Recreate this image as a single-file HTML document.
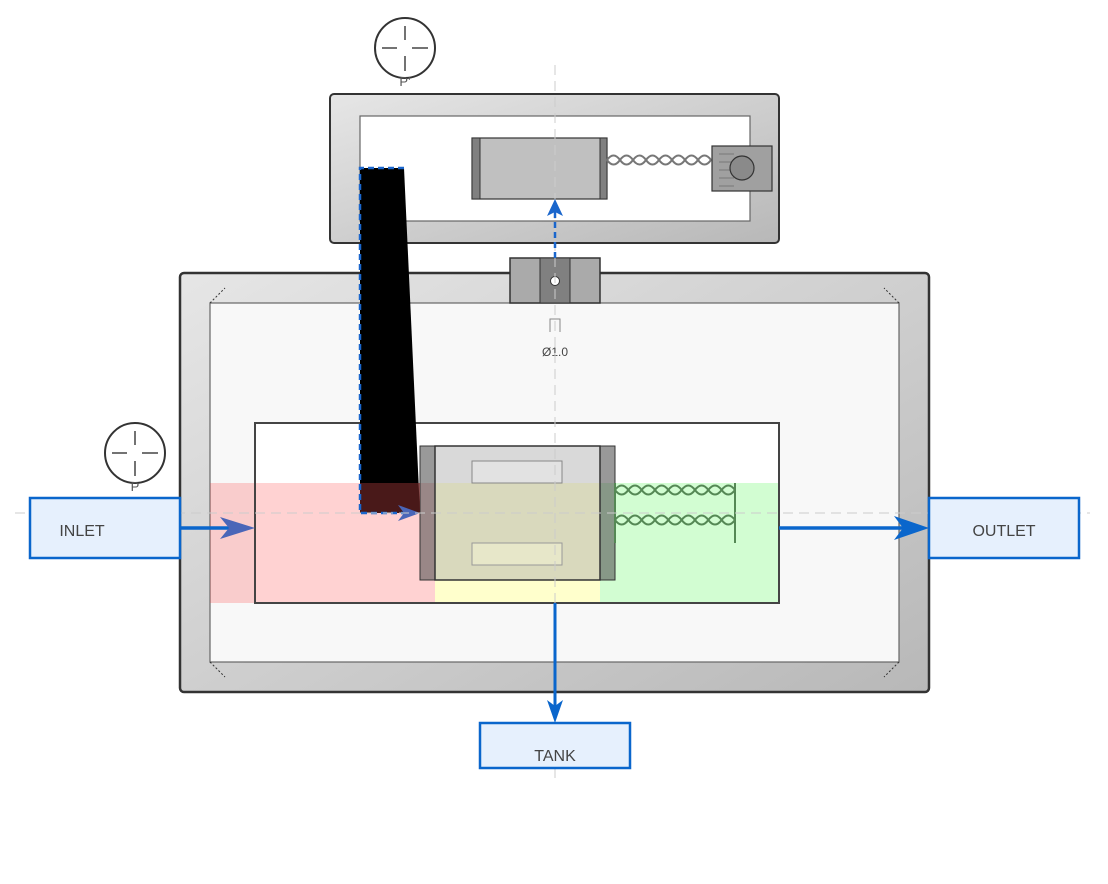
<!DOCTYPE html>
<html><head><meta charset="utf-8"><style>html,body{margin:0;padding:0;background:#fff}svg{display:block}</style></head><body>
<svg width="1108" height="884" viewBox="0 0 1108 884" xmlns="http://www.w3.org/2000/svg" font-family="Liberation Sans, sans-serif">
<defs>
<linearGradient id="g" x1="0" y1="0" x2="1" y2="1"><stop offset="0" stop-color="#e6e6e6"/><stop offset="1" stop-color="#b8b8b8"/></linearGradient>
</defs>
<rect x="330" y="94" width="449" height="149" rx="4" fill="url(#g)" stroke="#333" stroke-width="2"/>
<rect x="360" y="116" width="390" height="105" fill="#fff" stroke="#666" stroke-width="1.2"/>
<rect x="472" y="138" width="135" height="61" fill="#c0c0c0" stroke="#333" stroke-width="1.2"/>
<rect x="472" y="138" width="8" height="61" fill="#808080" stroke="#333" stroke-width="1"/>
<rect x="600" y="138" width="7" height="61" fill="#808080" stroke="#333" stroke-width="1"/>
<path d="M607,160 q6.5,-9 13,0 t13,0 t13,0 t13,0 t13,0 t13,0 t13,0 t13,0" fill="none" stroke="#777" stroke-width="2"/>
<path d="M607,160 q6.5,9 13,0 t13,0 t13,0 t13,0 t13,0 t13,0 t13,0 t13,0" fill="none" stroke="#777" stroke-width="2"/>
<rect x="712" y="146" width="60" height="45" fill="#a0a0a0" stroke="#333" stroke-width="1.2"/>
<g stroke="#777" stroke-width="1"><line x1="719" y1="154" x2="734" y2="154"/><line x1="719" y1="162" x2="734" y2="162"/><line x1="719" y1="170" x2="734" y2="170"/><line x1="719" y1="178" x2="734" y2="178"/><line x1="719" y1="186" x2="734" y2="186"/></g>
<circle cx="742" cy="168" r="12" fill="#8a8a8a" stroke="#333" stroke-width="1.2"/>
<circle cx="405" cy="48" r="30" fill="#fff" stroke="#333" stroke-width="2"/>
<g stroke="#444" stroke-width="1.5"><line x1="382" y1="48" x2="397" y2="48"/><line x1="412" y1="48" x2="428" y2="48"/><line x1="405" y1="26" x2="405" y2="40"/><line x1="405" y1="56" x2="405" y2="71"/></g>
<text x="405" y="86" font-size="13" fill="#555" text-anchor="middle">P'</text>
<rect x="180" y="273" width="749" height="419" rx="4" fill="url(#g)" stroke="#333" stroke-width="2.5"/>
<rect x="210" y="303" width="689" height="359" fill="#f8f8f8" stroke="#666" stroke-width="1.2"/>
<g stroke="#333" stroke-width="1" stroke-dasharray="2,2"><line x1="210" y1="303" x2="225" y2="288"/><line x1="899" y1="303" x2="884" y2="288"/><line x1="210" y1="662" x2="225" y2="677"/><line x1="899" y1="662" x2="884" y2="677"/></g>
<rect x="510" y="258" width="90" height="45" fill="#aaa" stroke="#333" stroke-width="1.5"/>
<rect x="540" y="258" width="30" height="45" fill="#808080" stroke="#333" stroke-width="1"/>
<circle cx="555" cy="281" r="4.5" fill="#fff" stroke="#333" stroke-width="1"/>
<path d="M550,332 v-13 h10 v13" fill="none" stroke="#888" stroke-width="1"/>
<text x="555" y="356" font-size="12" fill="#444" text-anchor="middle">Ø1.0</text>
<rect x="255" y="423" width="524" height="180" fill="#fff" stroke="#333" stroke-width="2"/>
<rect x="210" y="483" width="225" height="120" fill="#ff3333" fill-opacity="0.22"/>
<rect x="435" y="483" width="165" height="120" fill="#ffffcc"/>
<rect x="600" y="483" width="179" height="120" fill="#d2fdd2"/>
<rect x="255" y="423" width="524" height="180" fill="none" stroke="#444" stroke-width="2"/>
<rect x="420" y="446" width="15" height="134" fill="#555" fill-opacity="0.6" stroke="#333"/>
<rect x="600" y="446" width="15" height="134" fill="#555" fill-opacity="0.6" stroke="#333"/>
<rect x="435" y="446" width="165" height="134" fill="#aaa" fill-opacity="0.45" stroke="#333" stroke-width="1.5"/>
<rect x="472" y="461" width="90" height="22" fill="#e8e8e8" fill-opacity="0.6" stroke="#888"/>
<rect x="472" y="543" width="90" height="22" fill="#f0f0d0" fill-opacity="0.6" stroke="#999"/>
<g fill="none" stroke="#558855" stroke-width="2">
<path d="M615,490 q6.67,-9 13.33,0 t13.33,0 t13.33,0 t13.33,0 t13.33,0 t13.33,0 t13.33,0 t13.33,0 t13.33,0"/>
<path d="M615,490 q6.67,9 13.33,0 t13.33,0 t13.33,0 t13.33,0 t13.33,0 t13.33,0 t13.33,0 t13.33,0 t13.33,0"/>
<path d="M615,520 q6.67,-9 13.33,0 t13.33,0 t13.33,0 t13.33,0 t13.33,0 t13.33,0 t13.33,0 t13.33,0 t13.33,0"/>
<path d="M615,520 q6.67,9 13.33,0 t13.33,0 t13.33,0 t13.33,0 t13.33,0 t13.33,0 t13.33,0 t13.33,0 t13.33,0"/>
<line x1="735" y1="483" x2="735" y2="543"/><line x1="615" y1="483" x2="615" y2="543"/>
</g>
<polygon points="360,168 404,168 420,513 360,513" fill="#000"/>
<rect x="360" y="483" width="60" height="30" fill="#7a2a2a" fill-opacity="0.6"/>
<path d="M404,168 H360 V513 H410" fill="none" stroke="#1a66cc" stroke-width="2.5" stroke-dasharray="6,4"/>
<polygon points="420,513 398,505 404,513 398,521" fill="#4a66b8"/>
<line x1="555" y1="65" x2="555" y2="778" stroke="#ccc" stroke-width="1" stroke-dasharray="10,6"/>
<line x1="15" y1="513" x2="1090" y2="513" stroke="#ccc" stroke-width="1" stroke-dasharray="10,6"/>
<line x1="555" y1="258" x2="555" y2="212" stroke="#1a66cc" stroke-width="2.5" stroke-dasharray="6,4"/>
<polygon points="555,199 547,216 555,212 563,216" fill="#1a66cc"/>
<circle cx="135" cy="453" r="30" fill="#fff" stroke="#333" stroke-width="2"/>
<g stroke="#444" stroke-width="1.5"><line x1="112" y1="453" x2="127" y2="453"/><line x1="142" y1="453" x2="158" y2="453"/><line x1="135" y1="431" x2="135" y2="445"/><line x1="135" y1="461" x2="135" y2="476"/></g>
<text x="135" y="491" font-size="13" fill="#555" text-anchor="middle">P</text>
<line x1="180" y1="528" x2="240" y2="528" stroke="#0a66cc" stroke-width="3.5"/>
<polygon points="255,528 220,517 229,528 220,539" fill="#4a66b8"/>
<line x1="779" y1="528" x2="912" y2="528" stroke="#0a66cc" stroke-width="3.5"/>
<polygon points="929,528 894,516 903,528 894,540" fill="#0a66cc"/>
<line x1="555" y1="603" x2="555" y2="708" stroke="#0a66cc" stroke-width="3"/>
<polygon points="555,723 547,700 555,706 563,700" fill="#0a66cc"/>
<rect x="30" y="498" width="150" height="60" fill="#e6f0fd" stroke="#0a66cc" stroke-width="2.5"/>
<text x="82" y="536" font-size="16" fill="#444" text-anchor="middle">INLET</text>
<rect x="929" y="498" width="150" height="60" fill="#e6f0fd" stroke="#0a66cc" stroke-width="2.5"/>
<text x="1004" y="536" font-size="16" fill="#444" text-anchor="middle">OUTLET</text>
<rect x="480" y="723" width="150" height="45" fill="#e6f0fd" stroke="#0a66cc" stroke-width="2.5"/>
<text x="555" y="761" font-size="16" fill="#444" text-anchor="middle">TANK</text>
</svg>
</body></html>
